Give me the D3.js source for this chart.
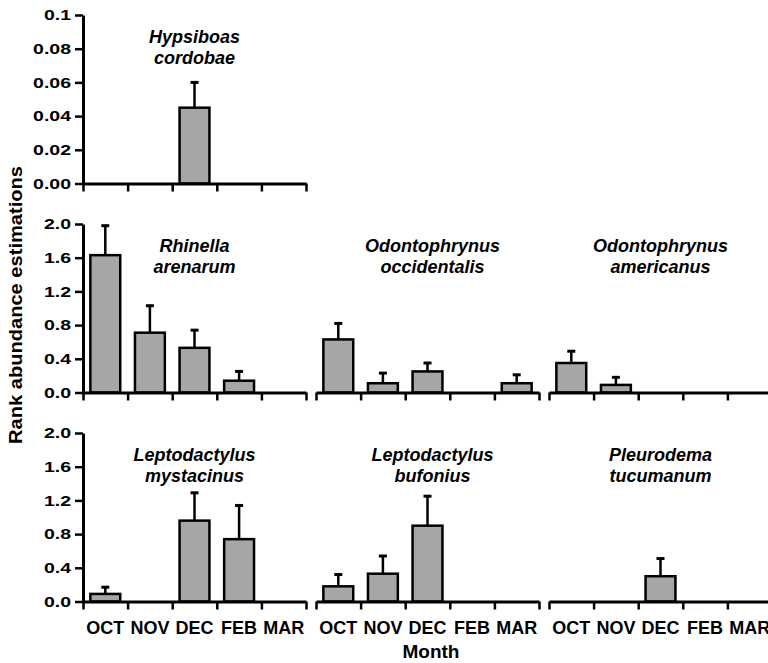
<!DOCTYPE html>
<html>
<head>
<meta charset="utf-8">
<script src="https://cdn.jsdelivr.net/npm/d3@7"></script>
<style>
  body { margin: 0; background: #fff; }
  svg { display: block; font-family: Arial, "Liberation Sans", sans-serif; }
</style>
</head>
<body>
<svg id="chart" width="768" height="663"></svg>
<script>
// months sampled, same for all panels
var months = ["OCT", "NOV", "DEC", "FEB", "MAR"];

// mean rank abundance and standard error per species
var hypsiboasMean  = [0, 0, 0.045, 0, 0];
var hypsiboasSE    = [0, 0, 0.015, 0, 0];
var rhinellaMean   = [1.63, 0.71, 0.53, 0.14, 0];
var rhinellaSE     = [0.35, 0.32, 0.21, 0.11, 0];
var occidentalisMean = [0.63, 0.11, 0.25, 0, 0.11];
var occidentalisSE   = [0.19, 0.12, 0.10, 0, 0.10];
var americanusMean = [0.35, 0.09, 0, 0, 0];
var americanusSE   = [0.14, 0.09, 0, 0, 0];
var mystacinusMean = [0.09, 0, 0.96, 0.74, 0];
var mystacinusSE   = [0.08, 0, 0.33, 0.40, 0];
var bufoniusMean   = [0.18, 0.33, 0.90, 0, 0];
var bufoniusSE     = [0.14, 0.21, 0.35, 0, 0];
var pleurodemaMean = [0, 0, 0.30, 0, 0];
var pleurodemaSE   = [0, 0, 0.21, 0, 0];

// y ticks per row
var rowMax = [0.1, 2, 2];
var smallTicks = [0, 0.02, 0.04, 0.06, 0.08, 0.1];
var smallTickLabels = ["0.00", "0.02", "0.04", "0.06", "0.08", "0.1"];
var bigTicks = [0, 0.4, 0.8, 1.2, 1.6, 2.0];
var bigTickLabels = ["0.0", "0.4", "0.8", "1.2", "1.6", "2.0"];

var panels = [
    {name: ["Hypsiboas", "cordobae"], row: 0, col: 0, mean: hypsiboasMean, se: hypsiboasSE},
    {name: ["Rhinella", "arenarum"], row: 1, col: 0, mean: rhinellaMean, se: rhinellaSE},
    {name: ["Odontophrynus", "occidentalis"], row: 1, col: 1, mean: occidentalisMean, se: occidentalisSE},
    {name: ["Odontophrynus", "americanus"], row: 1, col: 2, mean: americanusMean, se: americanusSE},
    {name: ["Leptodactylus", "mystacinus"], row: 2, col: 0, mean: mystacinusMean, se: mystacinusSE},
    {name: ["Leptodactylus", "bufonius"], row: 2, col: 1, mean: bufoniusMean, se: bufoniusSE},
    {name: ["Pleurodema", "tucumanum"], row: 2, col: 2, mean: pleurodemaMean, se: pleurodemaSE}
];

// layout
var colLeft = [83, 316, 549];
var panelW = 223;
var rowTop = [15, 224, 433];
var panelH = 168.5;
var labelShift = [0, 5, 0];   // species names sit a bit right of centre in col 2
var stretch = 1.3;            // tick numbers in the figure look horizontally stretched

var svg = d3.select("#chart");

panels.forEach(function(p) {
    var x0 = colLeft[p.col];
    var yTop = rowTop[p.row];
    var g = svg.append("g").attr("transform", "translate(" + x0 + "," + yTop + ")");

    var y = d3.scaleLinear().domain([0, rowMax[p.row]]).range([panelH, 0]);
    var xEdge = d3.scaleLinear().domain([0, months.length]).range([0, panelW]);
    var x = d3.scaleBand().domain(months).range([0, panelW])
        .paddingInner(0.33).paddingOuter(0.165);

    var rows = p.mean.map(function(v, i) { return {m: months[i], v: v, se: p.se[i]}; });

    // bars
    g.selectAll("rect.bar")
        .data(rows.filter(function(d) { return d.v > 0; }))
        .enter().append("rect")
        .attr("class", "bar")
        .attr("x", function(d) { return x(d.m); })
        .attr("y", function(d) { return y(d.v); })
        .attr("width", x.bandwidth())
        .attr("height", function(d) { return y(0) - y(d.v); })
        .attr("fill", "#a6a6a6")
        .attr("stroke", "#000")
        .attr("stroke-width", 2.5);

    // error bars (upper only)
    var eb = g.selectAll("g.err")
        .data(rows.filter(function(d) { return d.se > 0; }))
        .enter().append("g").attr("class", "err");
    eb.append("line")
        .attr("x1", function(d) { return x(d.m) + x.bandwidth() / 2; })
        .attr("x2", function(d) { return x(d.m) + x.bandwidth() / 2; })
        .attr("y1", function(d) { return y(d.v); })
        .attr("y2", function(d) { return y(d.v + d.se); })
        .attr("stroke", "#000").attr("stroke-width", 2.5);
    eb.append("line")
        .attr("x1", function(d) { return x(d.m) + x.bandwidth() / 2 - 4; })
        .attr("x2", function(d) { return x(d.m) + x.bandwidth() / 2 + 4; })
        .attr("y1", function(d) { return y(d.v + d.se); })
        .attr("y2", function(d) { return y(d.v + d.se); })
        .attr("stroke", "#000").attr("stroke-width", 3);

    // x axis: ticks at band edges pointing down
    var xAxis = d3.axisBottom(xEdge)
        .tickValues(d3.range(months.length + 1))
        .tickFormat("")
        .tickSize(8)
        .tickSizeOuter(0);
    var xg = g.append("g")
        .attr("transform", "translate(0," + y(0) + ")")
        .call(xAxis);
    xg.select(".domain").attr("stroke-width", 3);
    xg.selectAll(".tick line").attr("stroke-width", 2.5);

    // y axis only on the first column
    if (p.col === 0) {
        var ticks = p.row === 0 ? smallTicks : bigTicks;
        var labels = p.row === 0 ? smallTickLabels : bigTickLabels;
        var yAxis = d3.axisLeft(y)
            .tickValues(ticks)
            .tickFormat(function(d, i) { return labels[i]; })
            .tickSize(8)
            .tickSizeOuter(0)
            .tickPadding(4);
        var yg = g.append("g").call(yAxis);
        yg.select(".domain").attr("stroke-width", 3);
        yg.selectAll(".tick line").attr("stroke-width", 2.5);
        yg.selectAll(".tick text")
            .attr("font-size", 15)
            .attr("font-weight", "bold")
            .attr("font-family", "Arial, 'Liberation Sans', sans-serif")
            .attr("fill", "#000")
            .attr("x", -12 / stretch)
            .attr("transform", "scale(" + stretch + ",1)");
    }

    // month labels on bottom row
    if (p.row === 2) {
        g.selectAll("text.month")
            .data(months)
            .enter().append("text")
            .attr("class", "month")
            .attr("x", function(d) { return x(d) + x.bandwidth() / 2; })
            .attr("y", y(0) + 32)
            .attr("text-anchor", "middle")
            .attr("font-size", 18)
            .attr("font-weight", "bold")
            .text(function(d) { return d; });
    }

    // species name
    var lx = panelW / 2 + labelShift[p.col];
    p.name.forEach(function(line, i) {
        g.append("text")
            .attr("x", lx)
            .attr("y", 27.5 + i * 21)
            .attr("text-anchor", "middle")
            .attr("font-size", 18)
            .attr("font-weight", "bold")
            .attr("font-style", "italic")
            .text(line);
    });
});

// axis titles
svg.append("text")
    .attr("x", 431)
    .attr("y", 658)
    .attr("text-anchor", "middle")
    .attr("font-size", 19)
    .attr("font-weight", "bold")
    .text("Month");

svg.append("text")
    .attr("transform", "translate(22,305) rotate(-90)")
    .attr("text-anchor", "middle")
    .attr("font-size", 18)
    .attr("font-weight", "bold")
    .attr("textLength", 278)
    .attr("lengthAdjust", "spacingAndGlyphs")
    .text("Rank abundance estimations");
</script>
</body>
</html>
